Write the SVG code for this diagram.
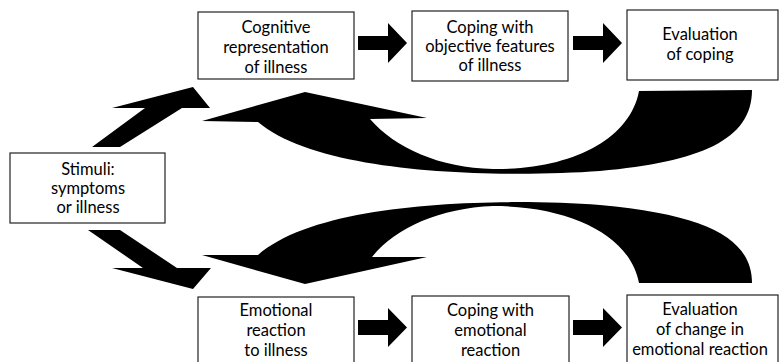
<svg xmlns="http://www.w3.org/2000/svg" width="779" height="362" viewBox="0 0 779 362">
<style>
.box{fill:#fff;stroke:#222;stroke-width:1.2}
.lbl{font-family:Lato,"Open Sans",sans-serif;font-size:16.5px;text-anchor:middle;fill:#000}
.arr{fill:#000;stroke:none}
</style>
<rect x="0" y="0" width="779" height="362" fill="#fff"/>
<g id="connectors">
<polygon class="arr" points="358,36 388,36 388,23 407,43 388,63 388,50 358,50"/>
<polygon class="arr" points="573,36 603,36 603,23 622,43 603,63 603,50 573,50"/>
<polygon class="arr" points="358,320 388,320 388,308 407,327.5 388,347 388,335 358,335"/>
<polygon class="arr" points="573,320 603,320 603,308 622,327.5 603,347 603,335 573,335"/>
<polygon class="arr" points="92,147 145,108 112,108 193,87 210,108 182,108 120,147"/>
<polygon class="arr" points="88,230 120,230 177,268 211,268 193,289 112,268 143,268"/>
<path class="arr" d="M639,91 L752,90 C752,140 700,162 600,171 C500,178 320,175 258,122 L202,121 L305,92 L427,118 L370,119 C395,148 440,168 493,169 C570,170 630,140 639,91 Z"/>
<path class="arr" d="M639,283 L752,283 C752,240 710,215 600,205 C500,198 320,200 258,255 L202,255 L305,284 L427,257 L372,257 C395,228 440,208 493,206 C570,206 630,235 639,283 Z"/>
</g>
<g id="cognitive">
<rect class="box" x="198" y="12" width="156" height="67"/>
<text class="lbl" x="276" y="33">Cognitive</text>
<text class="lbl" x="276" y="53">representation</text>
<text class="lbl" x="276" y="73">of illness</text>
</g>
<g id="coping-objective">
<rect class="box" x="412" y="11" width="156" height="70"/>
<text class="lbl" x="490" y="33">Coping with</text>
<text class="lbl" x="490" y="52">objective features</text>
<text class="lbl" x="490" y="71">of illness</text>
</g>
<g id="evaluation-coping">
<rect class="box" x="627" y="10" width="151" height="70"/>
<text class="lbl" x="700" y="40">Evaluation</text>
<text class="lbl" x="700" y="60">of coping</text>
</g>
<g id="stimuli">
<rect class="box" x="10" y="153" width="155" height="70"/>
<text class="lbl" x="88" y="175">Stimuli:</text>
<text class="lbl" x="88" y="194">symptoms</text>
<text class="lbl" x="88" y="213">or illness</text>
</g>
<g id="emotional">
<rect class="box" x="198" y="297" width="156" height="80"/>
<text class="lbl" x="276" y="316">Emotional</text>
<text class="lbl" x="276" y="336">reaction</text>
<text class="lbl" x="276" y="356">to illness</text>
</g>
<g id="coping-emotional">
<rect class="box" x="412" y="296" width="157" height="80"/>
<text class="lbl" x="490.5" y="316">Coping with</text>
<text class="lbl" x="490.5" y="336">emotional</text>
<text class="lbl" x="490.5" y="356">reaction</text>
</g>
<g id="evaluation-change">
<rect class="box" x="627" y="295" width="151" height="80"/>
<text class="lbl" x="700" y="315">Evaluation</text>
<text class="lbl" x="700" y="335">of change in</text>
<text class="lbl" x="700" y="355">emotional reaction</text>
</g>
</svg>
